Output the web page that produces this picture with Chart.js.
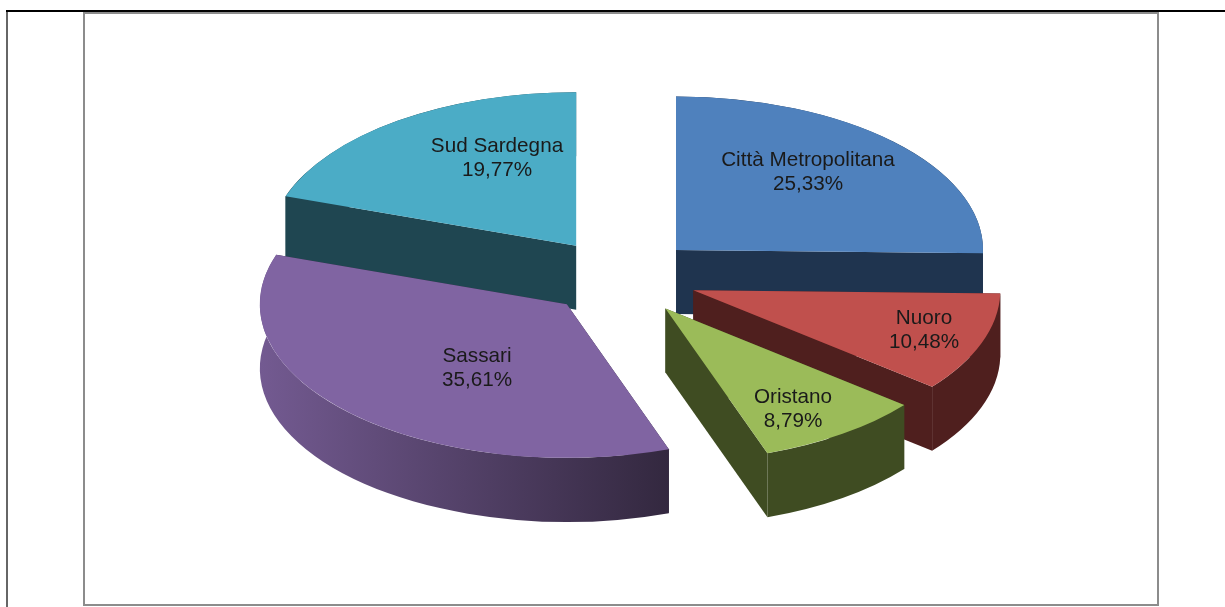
<!DOCTYPE html>
<html lang="it">
<head>
    <meta charset="UTF-8">
    <title>Province della Sardegna</title>
    <script src="https://cdn.jsdelivr.net/npm/chart.js"></script>
    <style>
        html, body {
            margin: 0;
            padding: 0;
            background: #fff;
            overflow: hidden;
        }

        .page {
            position: relative;
            width: 1225px;
            height: 607px;
        }

        .top-line {
            position: absolute;
            left: 6px;
            right: 0;
            top: 10px;
            height: 2px;
            background: #000;
        }

        .left-line {
            position: absolute;
            left: 6px;
            top: 12px;
            bottom: 0;
            width: 2px;
            background: #666;
        }

        .frame {
            position: absolute;
            left: 83px;
            top: 12px;
            width: 1072px;
            height: 590px;
            border: 2px solid #8c8c8c;
        }

        canvas {
            position: absolute;
            left: 0;
            top: 0;
        }
    </style>
</head>
<body>
    <div class="page">
        <div class="top-line"></div>
        <div class="left-line"></div>
        <div class="frame"></div>
        <canvas id="chart" width="1225" height="607"></canvas>
    </div>

    <script>
        // Dati
        const labels = ['Città Metropolitana', 'Nuoro', 'Oristano', 'Sassari', 'Sud Sardegna'];
        const values = [25.33, 10.48, 8.79, 35.61, 19.77];
        const topColors = ['#4F81BD', '#C0504D', '#9BBB59', '#8064A2', '#4BACC6'];
        const wallColors = ['#1F344F', '#4F1F1E', '#3F4C22', '#33283F', '#1F4651'];
        const bandFrom = ['#1F344F', '#4F1F1E', '#3F4C22', '#735A91', '#1F4651'];

        const SQUASH = 0.5;   // prospettiva: altezza/larghezza dell'ellisse
        const DEPTH = 64;     // spessore della torta
        const EXPLODE = 77;   // distacco delle fette
        const drawOrder = [4, 0, 3, 1, 2];

        // centro delle etichette
        const labelPos = [[808, 172], [924, 330.5], [793, 409], [477, 368.5], [497, 158.5]];

        const pie3d = {
            id: 'pie3d',
            beforeDatasetsDraw(chart) {
                const ctx = chart.ctx;
                const arcs = chart.getDatasetMeta(0).data;

                drawOrder.forEach((i) => {
                    const arc = arcs[i];
                    const mid = (arc.startAngle + arc.endAngle) / 2;
                    const x = arc.x + Math.cos(mid) * EXPLODE;
                    const y = arc.y + Math.sin(mid) * EXPLODE * SQUASH;
                    drawSides(ctx, arc, x, y, i);

                    // la faccia superiore la disegna l'arco di Chart.js
                    ctx.save();
                    ctx.translate(0, arc.y * (1 - SQUASH));
                    ctx.scale(1, SQUASH);
                    ctx.translate(Math.cos(mid) * EXPLODE, Math.sin(mid) * EXPLODE);
                    arc.draw(ctx);
                    ctx.restore();
                });

                ctx.save();
                ctx.font = "20.7px 'Liberation Sans', sans-serif";
                ctx.fillStyle = '#1a1a1a';
                ctx.textAlign = 'center';
                ctx.textBaseline = 'middle';
                labels.forEach((label, i) => {
                    const [lx, ly] = labelPos[i];
                    ctx.fillText(label, lx, ly - 12);
                    ctx.fillText(values[i].toFixed(2).replace('.', ',') + '%', lx, ly + 12);
                });
                ctx.restore();
                return false;
            }
        };

        function drawSides(ctx, arc, x, y, i) {
            const r = arc.outerRadius;
            const a0 = arc.startAngle;
            const a1 = arc.endAngle;
            const px = (a) => x + Math.cos(a) * r;
            const py = (a) => y + Math.sin(a) * r * SQUASH;

            // pareti radiali
            ctx.fillStyle = wallColors[i];
            [a0, a1].forEach((a) => {
                ctx.beginPath();
                ctx.moveTo(x, y);
                ctx.lineTo(px(a), py(a));
                ctx.lineTo(px(a), py(a) + DEPTH);
                ctx.lineTo(x, y + DEPTH);
                ctx.closePath();
                ctx.fill();
            });

            // parete curva esterna
            const grad = ctx.createLinearGradient(x - r, 0, px(a0), 0);
            grad.addColorStop(0, bandFrom[i]);
            grad.addColorStop(1, wallColors[i]);
            ctx.fillStyle = grad;
            ctx.beginPath();
            ctx.ellipse(x, y, r, r * SQUASH, 0, a0, a1);
            ctx.ellipse(x, y + DEPTH, r, r * SQUASH, 0, a1, a0, true);
            ctx.closePath();
            ctx.fill();
        }

        new Chart(document.getElementById('chart'), {
            type: 'pie',
            data: {
                labels: labels,
                datasets: [{
                    data: values,
                    backgroundColor: topColors,
                    borderWidth: 0,
                    clip: false
                }]
            },
            options: {
                responsive: false,
                animation: false,
                radius: 307,
                layout: {
                    padding: { left: 17, bottom: 53 }
                },
                plugins: {
                    legend: { display: false },
                    tooltip: { enabled: false }
                }
            },
            plugins: [pie3d]
        });
    </script>
</body>
</html>
